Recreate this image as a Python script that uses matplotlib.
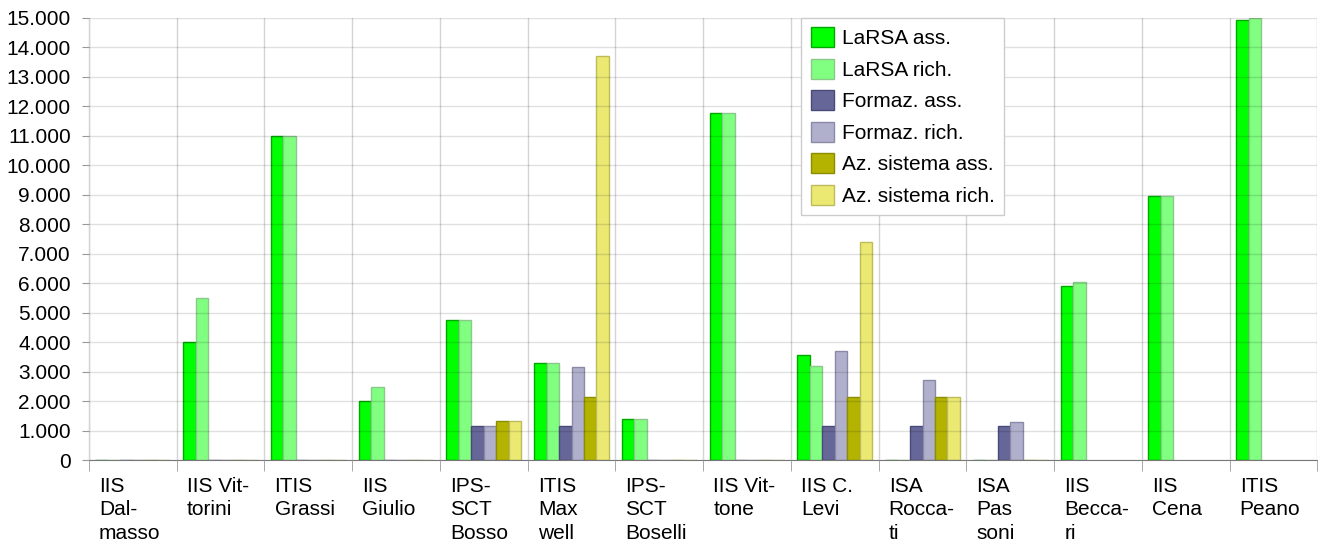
import numpy as np
import matplotlib.pyplot as plt
from matplotlib.ticker import FuncFormatter, FixedLocator

plt.rcParams['font.family'] = ['Liberation Sans', 'DejaVu Sans']

# data
schools = ['IIS\nDal-\nmasso', 'IIS Vit-\ntorini', 'ITIS\nGrassi', 'IIS\nGiulio',
           'IPS-\nSCT\nBosso', 'ITIS\nMax\nwell', 'IPS-\nSCT\nBoselli', 'IIS Vit-\ntone',
           'IIS C.\nLevi', 'ISA\nRocca-\nti', 'ISA\nPas\nsoni', 'IIS\nBecca-\nri',
           'IIS\nCena', 'ITIS\nPeano']
nan = np.nan
larsa_ass = [0, 4000, 11000, 2000, 4750, 3300, 1400, 11770, 3570, 0, 0, 5900, 8950, 14930]
larsa_rich = [0, 5500, 11000, 2500, 4750, 3300, 1400, 11770, 3200, 0, 0, 6030, 8950, 15000]
formaz_ass = [0, 0, 0, 0, 1150, 1150, 0, 0, 1150, 1150, 1150, nan, nan, nan]
formaz_rich = [0, 0, 0, 0, 1150, 3150, 0, 0, 3700, 2730, 1300, nan, nan, nan]
az_ass = [0, 0, 0, 0, 1320, 2150, 0, 0, 2150, 2150, 0, nan, nan, nan]
az_rich = [0, 0, 0, 0, 1320, 13700, 0, 0, 7400, 2150, 0, nan, nan, nan]

series = [
    ('LaRSA ass.', larsa_ass, '#00ff00', '#00a800'),
    ('LaRSA rich.', larsa_rich, '#80ff80', '#8cc88c'),
    ('Formaz. ass.', formaz_ass, '#666699', '#4a4a78'),
    ('Formaz. rich.', formaz_rich, '#b0b0cc', '#8a8aa8'),
    ('Az. sistema ass.', az_ass, '#b3b300', '#8c8c00'),
    ('Az. sistema rich.', az_rich, '#ebe972', '#bdbb5a'),
]

fig = plt.figure(figsize=(13.18, 5.44), dpi=100)
ax = fig.add_axes([0.0675, 0.154, 0.932, 0.813])

x = np.arange(len(schools))
w = 0.142
for j, (name, vals, fc, ec) in enumerate(series):
    ax.bar(x + (j - 2.5) * w, vals, width=w, color=fc, edgecolor=ec,
           linewidth=1, label=name, zorder=2)

ax.set_xlim(-0.5, len(schools) - 0.5)
ax.set_ylim(0, 15000)
ax.set_yticks(np.arange(0, 15001, 1000))
ax.yaxis.set_major_formatter(FuncFormatter(lambda v, p: f'{int(v):,}'.replace(',', '.')))

# category labels left aligned, boundaries as minor ticks with grid
ax.xaxis.set_major_locator(FixedLocator(x - 0.385))
ax.set_xticklabels(schools, ha='left', va='top', linespacing=1.3)
ax.xaxis.set_minor_locator(FixedLocator(np.arange(-0.5, len(schools), 1.0)))
ax.tick_params(axis='x', which='major', length=0, pad=12, labelsize=15)
ax.tick_params(axis='x', which='minor', length=8, color='#999999')
ax.tick_params(axis='y', length=5, color='#999999', labelsize=15, pad=8)

ax.grid(axis='y', which='major', color='black', alpha=0.12, linewidth=1, zorder=3)
ax.grid(axis='x', which='minor', color='#d4d4d4', linewidth=1)
ax.set_axisbelow(False)
for l in ax.get_ygridlines():
    l.set_zorder(3)

ax.spines['right'].set_visible(False)
ax.spines['top'].set_visible(False)
ax.spines['left'].set_color('#555555')
ax.spines['bottom'].set_color('#777777')

leg = ax.legend(loc='upper left', bbox_to_anchor=(0.58, 1.0), fontsize=15,
                fancybox=False, framealpha=1, edgecolor='#cccccc',
                handlelength=1.1, handleheight=1.1, labelspacing=0.5,
                handletextpad=0.4, borderpad=0.45, borderaxespad=0)
leg.set_zorder(5)

fig.savefig('out.png', dpi=100)
